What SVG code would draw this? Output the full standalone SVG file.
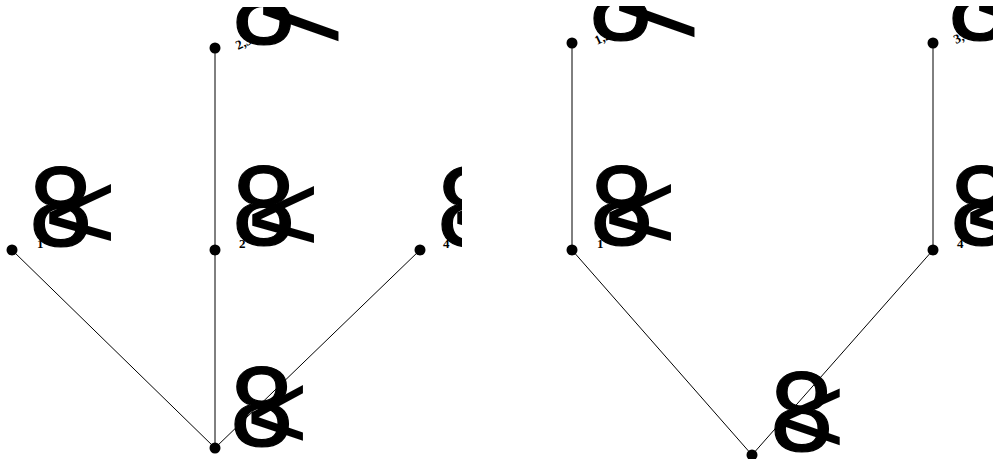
<svg xmlns="http://www.w3.org/2000/svg" width="993" height="459" viewBox="0 0 993 459">
<defs>
<clipPath id="c1"><rect x="0" y="7" width="462" height="452"/></clipPath>
<clipPath id="c2"><rect x="462" y="6" width="531" height="453"/></clipPath>
</defs>
<style>
.e{stroke:#000;stroke-width:1;fill:none}
.d{fill:#000}
.g{font-family:"Liberation Sans",Arial,sans-serif;font-size:114px;fill:#000;stroke:#000;stroke-width:1.2px}
.lt{font-family:"Liberation Sans",Arial,sans-serif;font-size:100px;fill:#000}
.s{font-family:"Liberation Serif","Times New Roman",serif;font-size:13px;font-weight:bold;fill:#000}
</style>
<rect width="993" height="459" fill="#fff"/>
<g clip-path="url(#c1)">
<g id="edges1">
<line class="e" x1="215" y1="48" x2="215" y2="250"/>
<line class="e" x1="12" y1="250" x2="215" y2="448"/>
<line class="e" x1="215" y1="250" x2="215" y2="448"/>
<line class="e" x1="420" y1="250" x2="215" y2="448"/>
</g>
<g id="t1n23"><circle class="d" cx="215" cy="48" r="5.5"/><text class="s" transform="translate(238,50) rotate(-25)">2,3</text>
<text class="g" x="232" y="44">8</text><text class="lt" transform="translate(264,5) scale(1.55,1.3) translate(-5.5,35.5)">&lt;</text></g>
<g id="t1n1"><circle class="d" cx="12" cy="250" r="5.5"/><text class="s" x="37" y="248">1</text>
<text class="g" x="29" y="246">8</text><text class="lt" transform="translate(50,215) matrix(1,-0.09,0,1,0,0) scale(1.27,1.12) translate(-5.5,35.5)">&lt;</text></g>
<g id="t1n2"><circle class="d" cx="215" cy="250" r="5.5"/><text class="s" x="239" y="248">2</text>
<text class="g" x="232" y="245">8</text><text class="lt" transform="translate(253,217) matrix(1,-0.09,0,1,0,0) scale(1.27,1.12) translate(-5.5,35.5)">&lt;</text></g>
<g id="t1n4"><circle class="d" cx="420" cy="250" r="5.5"/><text class="s" x="443" y="248">4</text>
<text class="g" x="437" y="246">8</text><text class="lt" transform="translate(458,215) matrix(1,-0.09,0,1,0,0) scale(1.27,1.12) translate(-5.5,35.5)">&lt;</text></g>
<g id="t1root"><circle class="d" cx="215" cy="448" r="5.5"/>
<text class="g" x="230" y="446">8</text><text class="lt" transform="translate(252,415) matrix(1,-0.1,0,1,0,0) scale(1.06,1.1) translate(-5.5,35.5)">&lt;</text></g>
</g>
<g clip-path="url(#c2)">
<g id="edges2">
<line class="e" x1="572" y1="43" x2="572" y2="250"/>
<line class="e" x1="933" y1="43" x2="933" y2="250"/>
<line class="e" x1="572" y1="250" x2="752" y2="455"/>
<line class="e" x1="933" y1="250" x2="752" y2="455"/>
</g>
<g id="t2n12"><circle class="d" cx="572" cy="43" r="5.5"/><text class="s" transform="translate(597,45) rotate(-25)">1,2</text>
<text class="g" x="589" y="40">8</text><text class="lt" transform="translate(620,1) scale(1.55,1.3) translate(-5.5,35.5)">&lt;</text></g>
<g id="t2n34"><circle class="d" cx="933" cy="43" r="5.5"/><text class="s" transform="translate(956,44) rotate(-25)">3,4</text>
<text class="g" x="948" y="40">8</text><text class="lt" transform="translate(980,1) scale(1.55,1.3) translate(-5.5,35.5)">&lt;</text></g>
<g id="t2n1"><circle class="d" cx="572" cy="250" r="5.5"/><text class="s" x="597" y="248">1</text>
<text class="g" x="590" y="245">8</text><text class="lt" transform="translate(610,215) matrix(1,-0.09,0,1,0,0) scale(1.27,1.12) translate(-5.5,35.5)">&lt;</text></g>
<g id="t2n4"><circle class="d" cx="933" cy="250" r="5.5"/><text class="s" x="957" y="248">4</text>
<text class="g" x="950" y="245">8</text><text class="lt" transform="translate(971,215) matrix(1,-0.09,0,1,0,0) scale(1.27,1.12) translate(-5.5,35.5)">&lt;</text></g>
<g id="t2root"><circle class="d" cx="752" cy="455" r="5.5"/>
<text class="g" x="770" y="451">8</text><text class="lt" transform="translate(782,417) matrix(1,-0.05,0,1,0,0) scale(1.2,1.12) translate(-5.5,35.5)">&lt;</text></g>
</g>
</svg>
